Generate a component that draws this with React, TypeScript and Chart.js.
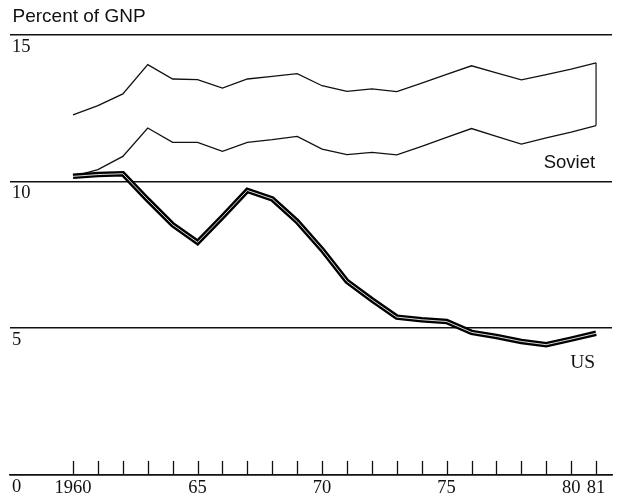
import React, { useEffect, useRef } from "react";
import { Chart, registerables } from "chart.js";

Chart.register(...registerables);

const years = [1960, 1961, 1962, 1963, 1964, 1965, 1966, 1967, 1968, 1969, 1970, 1971, 1972, 1973, 1974, 1975, 1976, 1977, 1978, 1979, 1980, 1981];
const sovietUpper = [12.28, 12.59, 12.99, 13.99, 13.5, 13.48, 13.19, 13.5, 13.59, 13.68, 13.27, 13.08, 13.16, 13.07, 13.36, 13.66, 13.95, 13.71, 13.47, 13.65, 13.84, 14.05];
const sovietLower = [10.18, 10.41, 10.86, 11.83, 11.34, 11.34, 11.03, 11.34, 11.43, 11.54, 11.11, 10.92, 11.0, 10.91, 11.2, 11.51, 11.81, 11.54, 11.28, 11.49, 11.69, 11.91];
const usValues = [10.18, 10.24, 10.27, 9.38, 8.53, 7.93, 8.8, 9.7, 9.41, 8.64, 7.68, 6.6, 5.97, 5.38, 5.29, 5.23, 4.86, 4.72, 4.55, 4.44, 4.63, 4.83];
const xTickLabels: Record<number, string> = { 1960: "1960", 1965: "65", 1970: "70", 1975: "75", 1980: "80", 1981: "81" };
const yTicks = [0, 5, 10, 15];
const titleText = "Percent of GNP";
const sovietLabel = "Soviet";
const usLabel = "US";

const serif = "'Liberation Serif', 'DejaVu Serif', serif";
const sans = "'Liberation Sans', Arial, sans-serif";

const toPts = (vals: number[]) => vals.map((v, i) => ({ x: years[i], y: v }));

const annotate = {
  id: "annotate",
  afterDatasetsDraw(chart: any) {
    const { ctx, scales, chartArea } = chart;
    const xs = scales.x;
    const ys = scales.y;
    ctx.save();
    // upward tick marks on the baseline
    const y0 = ys.getPixelForValue(0);
    ctx.strokeStyle = "#111";
    ctx.lineWidth = 1.3;
    years.forEach((yr) => {
      const px = Math.round(xs.getPixelForValue(yr)) + 0.5;
      ctx.beginPath();
      ctx.moveTo(px, y0);
      ctx.lineTo(px, y0 - 14);
      ctx.stroke();
    });
    // texts
    ctx.fillStyle = "#111";
    ctx.textBaseline = "alphabetic";
    ctx.font = `19px ${sans}`;
    ctx.textAlign = "left";
    ctx.fillText(titleText, chartArea.left + 2.5, 22);
    ctx.textAlign = "right";
    ctx.font = `18.5px ${sans}`;
    ctx.fillText(sovietLabel, xs.getPixelForValue(1981) - 1, ys.getPixelForValue(10.47));
    ctx.font = `19.5px ${serif}`;
    ctx.fillText(usLabel, xs.getPixelForValue(1981) - 1, ys.getPixelForValue(3.65));
    ctx.restore();
  },
};

export default function App() {
  const ref = useRef<HTMLCanvasElement>(null);
  useEffect(() => {
    if (!ref.current) return;
    const last = years.length - 1;
    const chart = new Chart(ref.current, {
      type: "line",
      data: {
        datasets: [
          { label: "Soviet upper", data: toPts(sovietUpper), borderColor: "#111", borderWidth: 1.3, pointRadius: 0, tension: 0, order: 3 },
          { label: "Soviet lower", data: toPts(sovietLower), borderColor: "#111", borderWidth: 1.3, pointRadius: 0, tension: 0, order: 3 },
          {
            label: "Soviet range",
            data: [
              { x: years[last], y: sovietLower[last] },
              { x: years[last], y: sovietUpper[last] },
            ],
            borderColor: "#111",
            borderWidth: 1.2,
            pointRadius: 0,
            order: 3,
          },
          { label: "US", data: toPts(usValues), borderColor: "#000", borderWidth: 5.5, pointRadius: 0, tension: 0, order: 2 },
          { label: "US inner", data: toPts(usValues), borderColor: "rgba(255,255,255,0.85)", borderWidth: 1.0, pointRadius: 0, tension: 0, order: 1 },
        ],
      },
      options: {
        animation: false,
        responsive: false,
        layout: { padding: { top: 35, left: 6, right: 6, bottom: 0.08 } },
        plugins: { legend: { display: false }, tooltip: { enabled: false }, title: { display: false } },
        scales: {
          x: {
            type: "linear",
            min: 1957.47,
            max: 1981.64,
            afterBuildTicks: (scale: any) => {
              scale.ticks = years.map((v) => ({ value: v }));
            },
            grid: { display: false, drawTicks: false },
            border: { display: true, color: "#111", width: 1.6 },
            ticks: {
              padding: 5,
              maxRotation: 0,
              autoSkip: false,
              color: "#111",
              font: { family: serif, size: 18.5, lineHeight: 0.92 },
              callback: (v: any) => xTickLabels[Math.round(Number(v))] ?? "",
            },
          },
          y: {
            min: 0,
            max: 15,
            afterBuildTicks: (scale: any) => {
              scale.ticks = yTicks.map((v) => ({ value: v }));
            },
            grid: { color: "#111", lineWidth: 1.6, drawTicks: false },
            border: { display: false },
            ticks: {
              mirror: true,
              padding: 2,
              labelOffset: 12,
              color: "#111",
              font: { family: serif, size: 18.5 },
            },
          },
        },
      },
      plugins: [annotate],
    });
    return () => chart.destroy();
  }, []);
  return (
    <div style={{ position: "fixed", left: 0, top: 0, width: 618, height: 502, background: "#fff" }}>
      <canvas ref={ref} width={618} height={502} style={{ display: "block" }} />
    </div>
  );
}
